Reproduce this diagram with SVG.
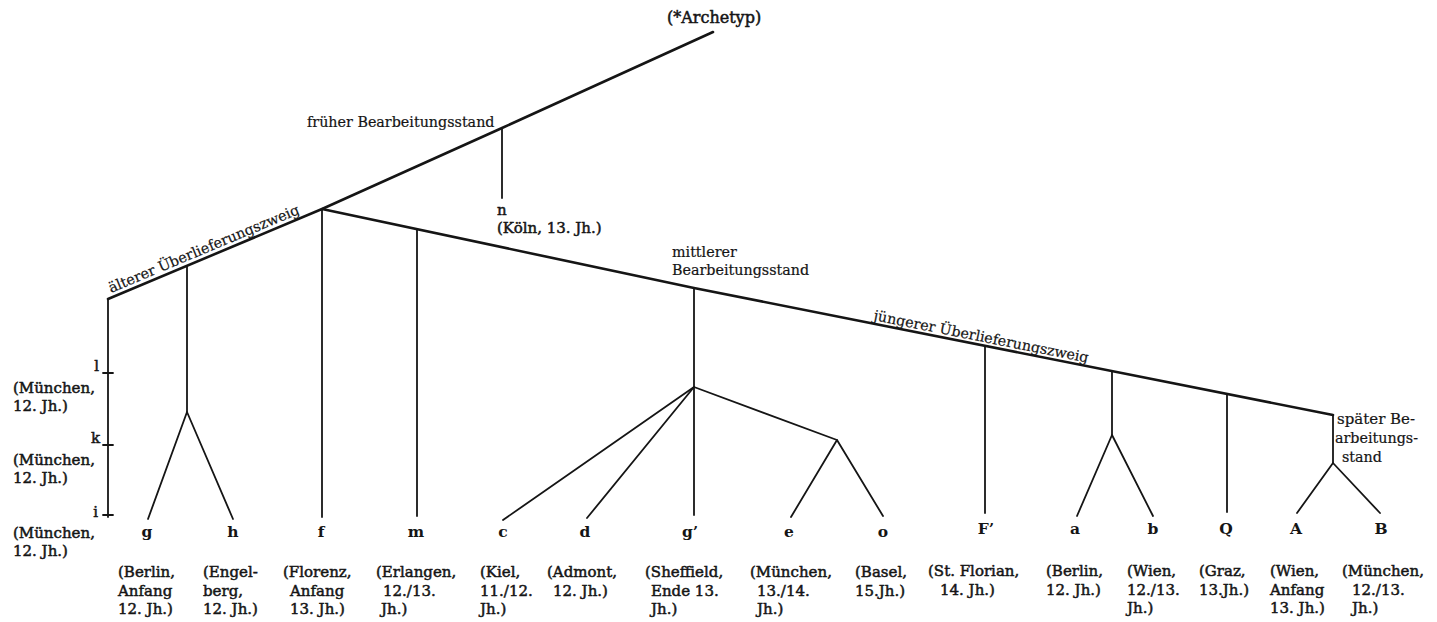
<svg xmlns="http://www.w3.org/2000/svg" width="1437" height="622" viewBox="0 0 1437 622">
<style>
  .ln{fill:none;stroke:#151515;stroke-width:2.6;stroke-linecap:round;stroke-linejoin:round}
  .br{fill:none;stroke:#151515;stroke-width:1.8;stroke-linecap:round;stroke-linejoin:round}
  text{font-family:"DejaVu Serif","Liberation Serif",serif;fill:#151515}
  .an{font-size:14.3px;stroke:#151515;stroke-width:0.2}
  .lb{font-size:15px;stroke:#151515;stroke-width:0.5}
  .sg{font-size:15.5px;font-weight:bold;text-anchor:middle}
</style>
<rect width="1437" height="622" fill="#ffffff"/>

<g id="connectors">
  <polyline class="ln" points="713,32 502,128 322,209 108,299"/>
  <polyline class="ln" points="322,209 694,288 1333,415"/>
  <line class="br" x1="108" y1="299" x2="108" y2="517"/>
  <line class="br" x1="103" y1="373" x2="113" y2="373"/>
  <line class="br" x1="103" y1="445" x2="113" y2="445"/>
  <line class="br" x1="103" y1="515" x2="113" y2="515"/>
  <polyline class="br" points="187,266 187,412"/>
  <polyline class="br" points="148,519 187,412 233,519"/>
  <line class="br" x1="502" y1="128" x2="502" y2="198"/>
  <line class="br" x1="322" y1="209" x2="322" y2="517"/>
  <line class="br" x1="417" y1="229" x2="417" y2="516"/>
  <line class="br" x1="694" y1="288" x2="694" y2="515"/>
  <line class="br" x1="694" y1="387" x2="503" y2="520"/>
  <line class="br" x1="694" y1="387" x2="587" y2="518"/>
  <line class="br" x1="694" y1="387" x2="837" y2="440"/>
  <polyline class="br" points="791,517 837,440 883,516"/>
  <line class="br" x1="985" y1="346" x2="985" y2="513"/>
  <line class="br" x1="1112" y1="371" x2="1112" y2="435"/>
  <polyline class="br" points="1077,516 1112,435 1153,516"/>
  <line class="br" x1="1227" y1="394" x2="1227" y2="512"/>
  <line class="br" x1="1333" y1="415" x2="1333" y2="463"/>
  <polyline class="br" points="1297,513 1333,463 1380,513"/>
</g>

<g id="archetyp"><text class="lb" x="667" y="23" style="font-size:16px">(*Archetyp)</text></g>
<g id="frueher"><text class="an" x="307" y="127">früher Bearbeitungsstand</text></g>
<g id="node-n">
  <text class="lb" x="497" y="215">n</text>
  <text class="lb" x="497" y="233">(Köln, 13. Jh.)</text>
</g>
<g id="aelterer"><text class="an" x="111" y="293" transform="rotate(-22.8 111 293)">älterer Überlieferungszweig</text></g>
<g id="mittlerer">
  <text class="an" x="672" y="257">mittlerer</text>
  <text class="an" x="672" y="275">Bearbeitungsstand</text>
</g>
<g id="juengerer"><text class="an" x="873" y="320" transform="rotate(11.24 873 320)">jüngerer Überlieferungszweig</text></g>
<g id="spaeter">
  <text class="an" x="1337" y="424" style="font-size:15px">später Be-</text>
  <text class="an" x="1335" y="443">arbeitungs-</text>
  <text class="an" x="1342" y="462">stand</text>
</g>

<g id="node-l">
  <text class="lb" x="99" y="371" text-anchor="end">l</text>
  <text class="lb" x="13" y="393">(München,</text>
  <text class="lb" x="13" y="411">12. Jh.)</text>
</g>
<g id="node-k">
  <text class="lb" x="100" y="443" text-anchor="end">k</text>
  <text class="lb" x="13" y="465">(München,</text>
  <text class="lb" x="13" y="483">12. Jh.)</text>
</g>
<g id="node-i">
  <text class="lb" x="98" y="517" text-anchor="end">i</text>
  <text class="lb" x="13" y="538">(München,</text>
  <text class="lb" x="13" y="556">12. Jh.)</text>
</g>

<g id="node-g">
  <text class="sg" x="147" y="537">g</text>
  <text class="lb" x="118" y="577">(Berlin,</text>
  <text class="lb" x="118" y="596">Anfang</text>
  <text class="lb" x="118" y="614">12. Jh.)</text>
</g>
<g id="node-h">
  <text class="sg" x="233" y="537">h</text>
  <text class="lb" x="203" y="577">(Engel-</text>
  <text class="lb" x="203" y="596">berg,</text>
  <text class="lb" x="203" y="614">12. Jh.)</text>
</g>
<g id="node-f">
  <text class="sg" x="321" y="537">f</text>
  <text class="lb" x="283" y="577">(Florenz,</text>
  <text class="lb" x="290" y="596">Anfang</text>
  <text class="lb" x="290" y="614">13. Jh.)</text>
</g>
<g id="node-m">
  <text class="sg" x="416" y="537">m</text>
  <text class="lb" x="376" y="577">(Erlangen,</text>
  <text class="lb" x="383" y="596">12./13.</text>
  <text class="lb" x="381" y="614">Jh.)</text>
</g>
<g id="node-c">
  <text class="sg" x="503" y="537">c</text>
  <text class="lb" x="480" y="577">(Kiel,</text>
  <text class="lb" x="480" y="596">11./12.</text>
  <text class="lb" x="480" y="614">Jh.)</text>
</g>
<g id="node-d">
  <text class="sg" x="585" y="537">d</text>
  <text class="lb" x="547" y="577">(Admont,</text>
  <text class="lb" x="553" y="596">12. Jh.)</text>
</g>
<g id="node-g2">
  <text class="sg" x="690" y="537">g’</text>
  <text class="lb" x="645" y="577">(Sheffield,</text>
  <text class="lb" x="651" y="596">Ende 13.</text>
  <text class="lb" x="651" y="614">Jh.)</text>
</g>
<g id="node-e">
  <text class="sg" x="789" y="537">e</text>
  <text class="lb" x="750" y="577">(München,</text>
  <text class="lb" x="757" y="596">13./14.</text>
  <text class="lb" x="757" y="614">Jh.)</text>
</g>
<g id="node-o">
  <text class="sg" x="883" y="537">o</text>
  <text class="lb" x="855" y="577">(Basel,</text>
  <text class="lb" x="855" y="596">15.Jh.)</text>
</g>
<g id="node-F">
  <text class="sg" x="986" y="534">F’</text>
  <text class="lb" x="928" y="576">(St. Florian,</text>
  <text class="lb" x="940" y="595">14. Jh.)</text>
</g>
<g id="node-a">
  <text class="sg" x="1075" y="534">a</text>
  <text class="lb" x="1046" y="576">(Berlin,</text>
  <text class="lb" x="1046" y="595">12. Jh.)</text>
</g>
<g id="node-b">
  <text class="sg" x="1153" y="534">b</text>
  <text class="lb" x="1127" y="576">(Wien,</text>
  <text class="lb" x="1127" y="595">12./13.</text>
  <text class="lb" x="1127" y="613">Jh.)</text>
</g>
<g id="node-Q">
  <text class="sg" x="1226" y="534">Q</text>
  <text class="lb" x="1199" y="576">(Graz,</text>
  <text class="lb" x="1199" y="595">13.Jh.)</text>
</g>
<g id="node-A">
  <text class="sg" x="1296" y="534">A</text>
  <text class="lb" x="1270" y="576">(Wien,</text>
  <text class="lb" x="1270" y="595">Anfang</text>
  <text class="lb" x="1270" y="613">13. Jh.)</text>
</g>
<g id="node-B">
  <text class="sg" x="1381" y="534">B</text>
  <text class="lb" x="1342" y="576">(München,</text>
  <text class="lb" x="1352" y="595">12./13.</text>
  <text class="lb" x="1352" y="613">Jh.)</text>
</g>
</svg>
